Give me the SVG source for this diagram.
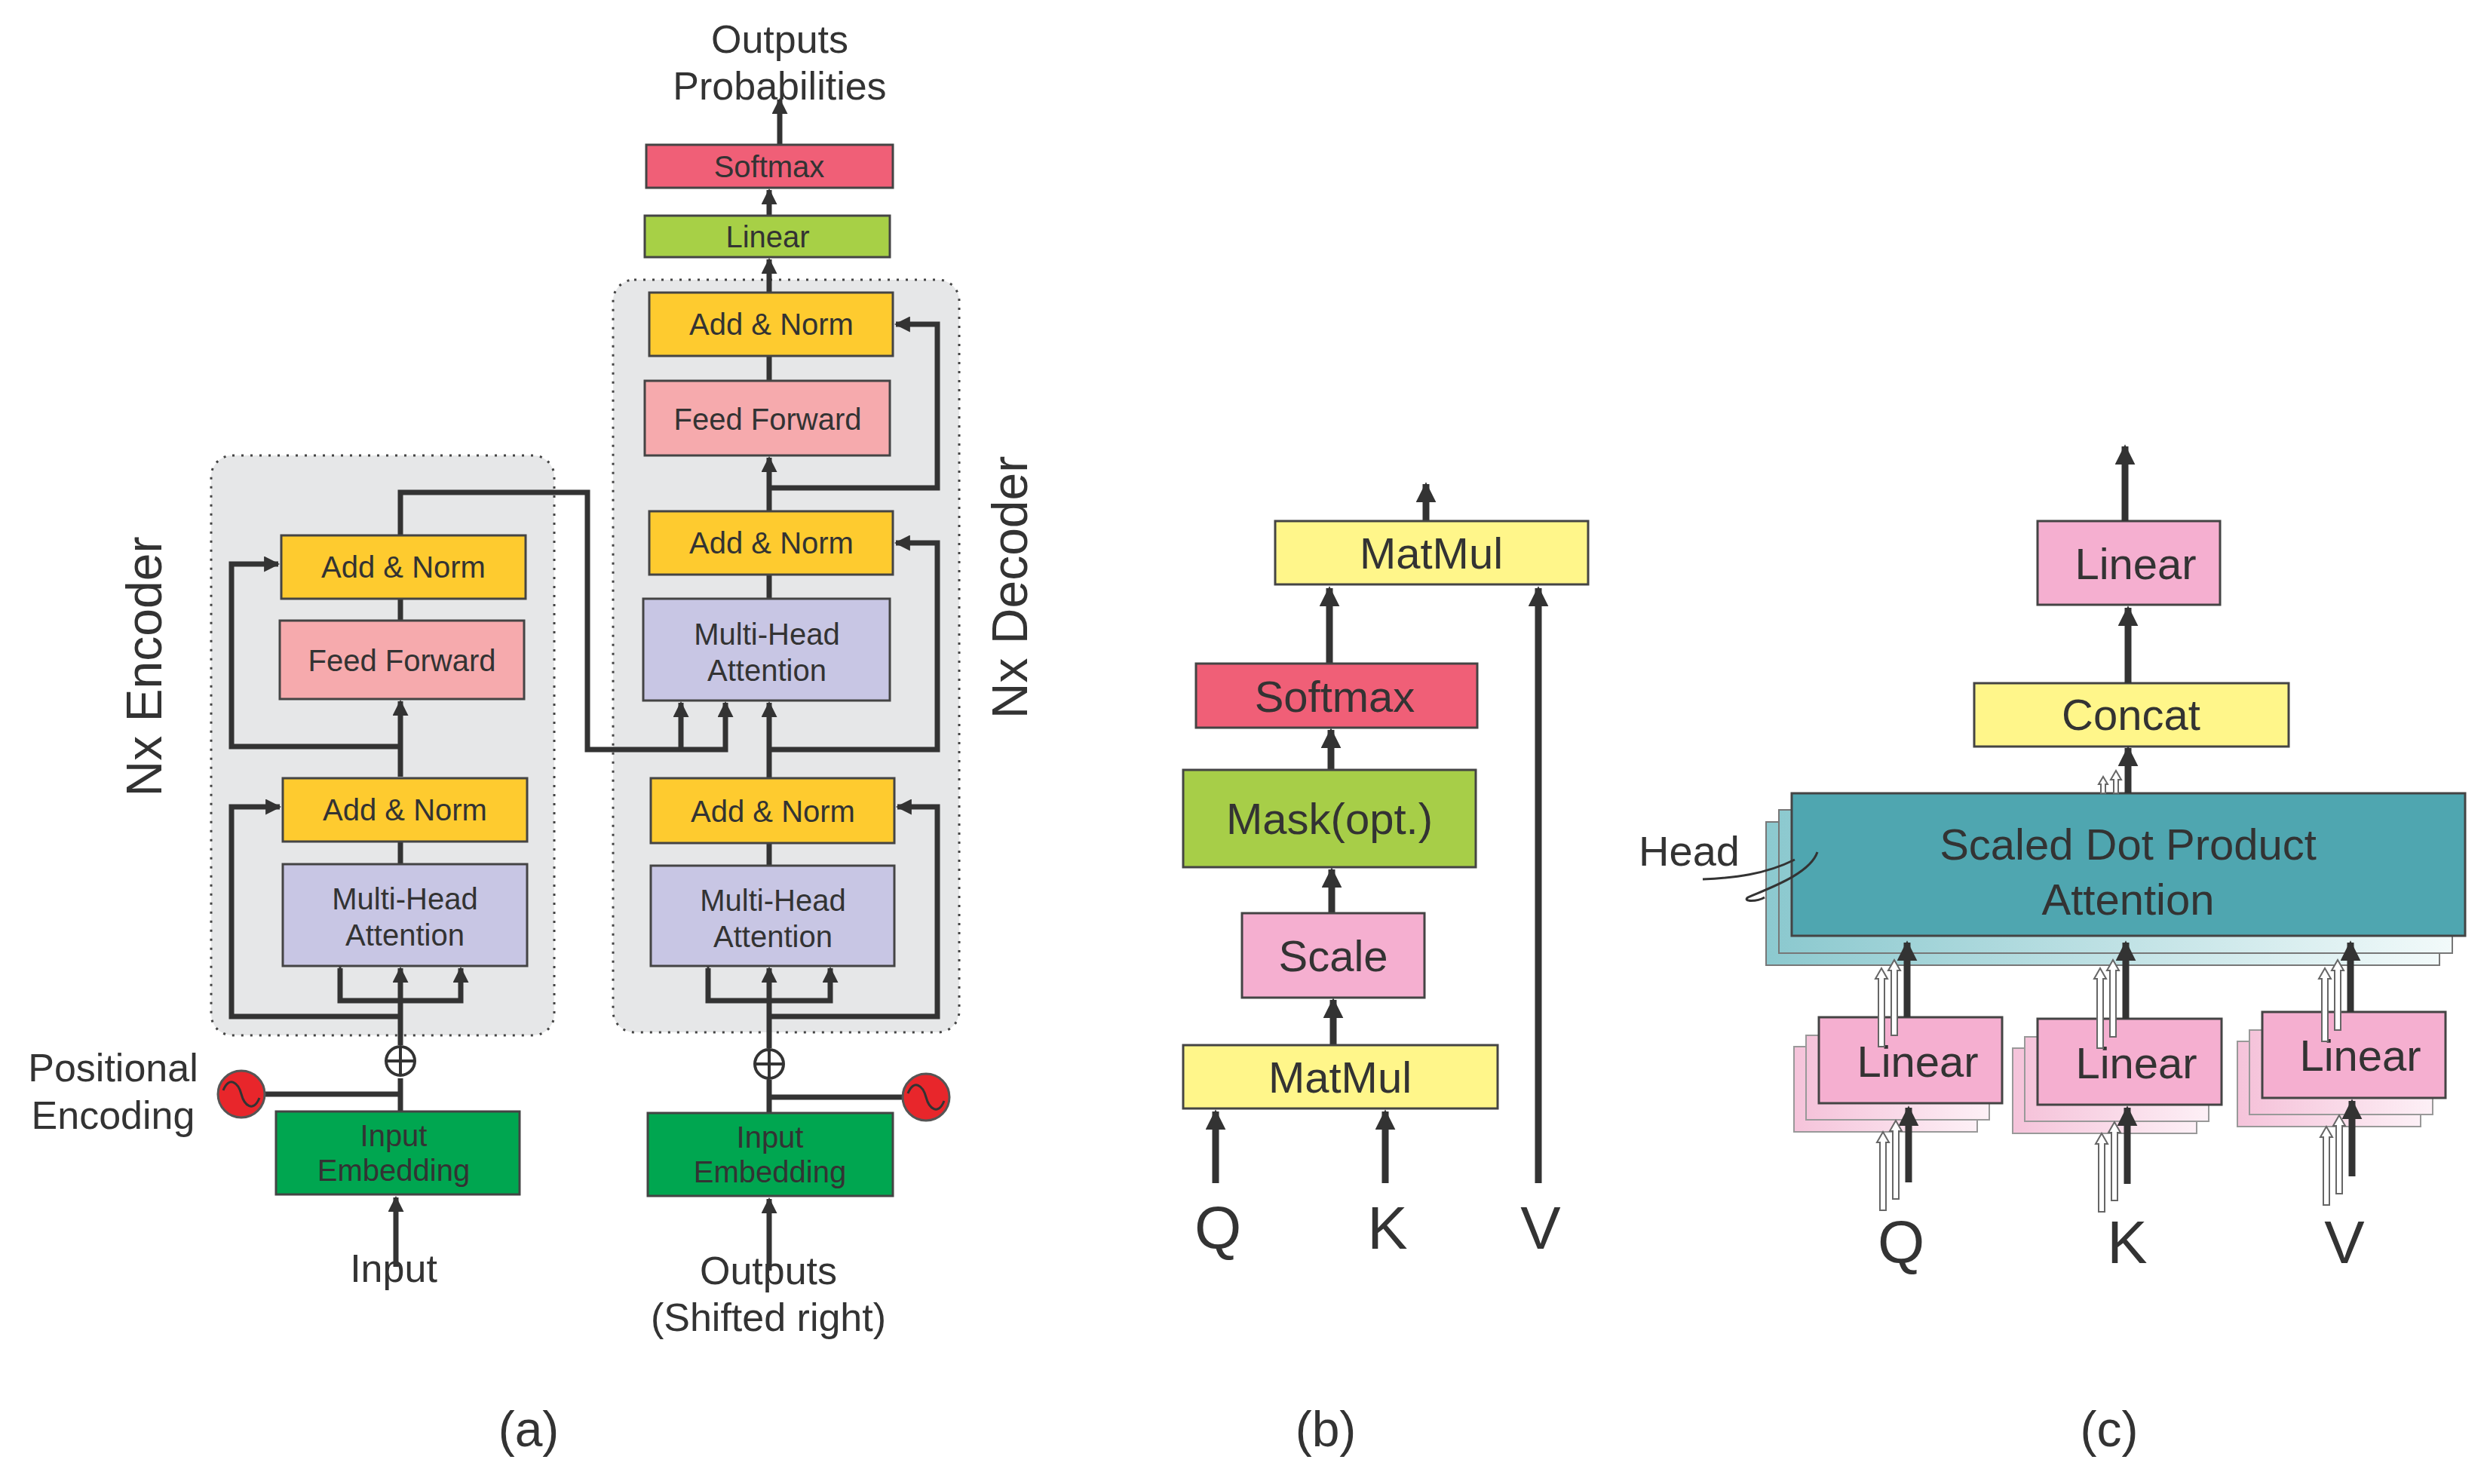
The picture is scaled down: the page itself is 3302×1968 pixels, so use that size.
<svg xmlns="http://www.w3.org/2000/svg" width="3302" height="1968" viewBox="0 0 3302 1968">
<style>
.b{stroke:#444;stroke-width:3}
.t{font-family:"Liberation Sans Narrow","Liberation Sans",Arial,sans-serif;fill:#333;text-anchor:middle}
.s{font-size:40px}
.L{font-family:"Liberation Sans",Arial,sans-serif;fill:#333;text-anchor:middle}
.c{fill:none;stroke:#333;stroke-width:7}
.w{fill:none;stroke:#333;stroke-width:9}
.an{fill:#fecb2f}.ff{fill:#f6aaad}.mh{fill:#c8c6e4}.ie{fill:#00a650}
.ct{fill:#e6e7e8;stroke:#444;stroke-width:3;stroke-dasharray:3 9}
.ow{fill:#fff;stroke:#666;stroke-width:2}
</style>
<defs>
<marker id="a" viewBox="0 0 10 10" refX="9" refY="5" markerWidth="3" markerHeight="3" orient="auto"><path d="M0,0L10,5L0,10z" fill="#333"/></marker>
<linearGradient id="tg" x1="0" x2="1"><stop offset="0" stop-color="#8cc9cf"/><stop offset="1" stop-color="#f2fafa"/></linearGradient>
<linearGradient id="pg" x1="0" x2="1"><stop offset="0" stop-color="#f5c3da"/><stop offset="1" stop-color="#fdf0f6"/></linearGradient>
</defs>
<rect width="3302" height="1968" fill="#fff"/>

<!-- containers -->
<rect id="enc-box" class="ct" x="280" y="604" width="455" height="769" rx="28"/>
<rect id="dec-box" class="ct" x="813" y="371" width="459" height="998" rx="28"/>

<!-- connectors (a) -->
<g id="connectors-a">
<path class="c" d="M1034,192V132" marker-end="url(#a)"/>
<path class="c" d="M1020,286V252" marker-end="url(#a)"/>
<path class="c" d="M1020,388V344" marker-end="url(#a)"/>
<path class="c" d="M1020,505V472"/>
<path class="c" d="M1020,678V607" marker-end="url(#a)"/>
<path class="c" d="M1020,794V762"/>
<path class="c" d="M1020,1032V932" marker-end="url(#a)"/>
<path class="c" d="M1020,1148V1118"/>
<path class="c" d="M1020,1476V1432"/>
<path class="c" d="M1020,1390V1284" marker-end="url(#a)"/>
<path class="c" d="M1020,1685V1590" marker-end="url(#a)"/>
<path class="c" d="M1020,1455H1198"/>
<path class="c" d="M1020,1348H1243V1070H1190" marker-end="url(#a)"/>
<path class="c" d="M1020,994H1243V720H1188" marker-end="url(#a)"/>
<path class="c" d="M1020,647H1243V430H1188" marker-end="url(#a)"/>
<path class="c" d="M939,1284V1327H1101V1284" marker-start="url(#a)" marker-end="url(#a)"/>
<path class="c" d="M531,1030V930" marker-end="url(#a)"/>
<path class="c" d="M531,1146V1116"/>
<path class="c" d="M531,823V794"/>
<path class="c" d="M531,1474V1430"/>
<path class="c" d="M531,1386V1284" marker-end="url(#a)"/>
<path class="c" d="M525,1680V1588" marker-end="url(#a)"/>
<path class="c" d="M351,1451H531"/>
<path class="c" d="M531,1348H307V1070H371" marker-end="url(#a)"/>
<path class="c" d="M531,990H307V748H369" marker-end="url(#a)"/>
<path class="c" d="M451,1284V1327H611V1284" marker-start="url(#a)" marker-end="url(#a)"/>
<path class="c" d="M531,710V653H779V994H962V932" marker-end="url(#a)"/>
<path class="c" d="M903,994V932" marker-end="url(#a)"/>
</g>

<!-- nodes (a) -->
<g id="d-softmax"><rect class="b" x="857" y="192" width="327" height="57" fill="#f05f77"/><text class="t s" x="1020" y="235">Softmax</text></g>
<g id="d-linear"><rect class="b" x="855" y="286" width="325" height="55" fill="#a7d046"/><text class="t s" x="1018" y="328">Linear</text></g>
<g id="d-an3"><rect class="b an" x="861" y="388" width="323" height="84"/><text class="t s" x="1023" y="444">Add &amp; Norm</text></g>
<g id="d-ff"><rect class="b ff" x="855" y="505" width="325" height="99"/><text class="t s" x="1018" y="570">Feed Forward</text></g>
<g id="d-an2"><rect class="b an" x="861" y="678" width="323" height="84"/><text class="t s" x="1023" y="734">Add &amp; Norm</text></g>
<g id="d-mha2"><rect class="b mh" x="853" y="794" width="327" height="135"/><text class="t s" x="1017" y="855">Multi-Head</text><text class="t s" x="1017" y="903">Attention</text></g>
<g id="d-an1"><rect class="b an" x="863" y="1032" width="323" height="86"/><text class="t s" x="1025" y="1090">Add &amp; Norm</text></g>
<g id="d-mha1"><rect class="b mh" x="863" y="1148" width="323" height="133"/><text class="t s" x="1025" y="1208">Multi-Head</text><text class="t s" x="1025" y="1256">Attention</text></g>
<g id="d-plus"><circle cx="1020" cy="1411" r="19" fill="#fff" stroke="#333" stroke-width="4"/><path d="M1003,1411H1037M1020,1394V1428" stroke="#333" stroke-width="4"/></g>
<g id="d-pe"><circle cx="1228" cy="1455" r="31" fill="#e8262b" stroke="#555" stroke-width="3"/><path d="M1204,1450c8,-20 20,-10 24,5s16,25 24,5" fill="none" stroke="#333" stroke-width="3"/></g>
<g id="d-emb"><rect class="b ie" x="859" y="1476" width="325" height="110"/><text class="t s" x="1021" y="1522">Input</text><text class="t s" x="1021" y="1568">Embedding</text></g>

<g id="e-an2"><rect class="b an" x="373" y="710" width="324" height="84"/><text class="t s" x="535" y="766">Add &amp; Norm</text></g>
<g id="e-ff"><rect class="b ff" x="371" y="823" width="324" height="104"/><text class="t s" x="533" y="890">Feed Forward</text></g>
<g id="e-an1"><rect class="b an" x="375" y="1032" width="324" height="84"/><text class="t s" x="537" y="1088">Add &amp; Norm</text></g>
<g id="e-mha"><rect class="b mh" x="375" y="1146" width="324" height="135"/><text class="t s" x="537" y="1206">Multi-Head</text><text class="t s" x="537" y="1254">Attention</text></g>
<g id="e-plus"><circle cx="531" cy="1407" r="19" fill="#fff" stroke="#333" stroke-width="4"/><path d="M514,1407H548M531,1390V1424" stroke="#333" stroke-width="4"/></g>
<g id="e-pe"><circle cx="320" cy="1451" r="31" fill="#e8262b" stroke="#555" stroke-width="3"/><path d="M296,1446c8,-20 20,-10 24,5s16,25 24,5" fill="none" stroke="#333" stroke-width="3"/></g>
<g id="e-emb"><rect class="b ie" x="366" y="1474" width="323" height="110"/><text class="t s" x="522" y="1520">Input</text><text class="t s" x="522" y="1566">Embedding</text></g>

<g id="labels-a" class="t" font-size="52">
<text x="1034" y="70">Outputs</text>
<text x="1034" y="132">Probabilities</text>
<text x="522" y="1700">Input</text>
<text x="1019" y="1703">Outputs</text>
<text x="1019" y="1765">(Shifted right)</text>
<text x="150" y="1434">Positional</text>
<text x="150" y="1497">Encoding</text>
<text x="214" y="884" font-size="66" font-family="Liberation Sans,Arial,sans-serif" transform="rotate(-90 214 884)">Nx Encoder</text>
<text x="1362" y="779" font-size="66" font-family="Liberation Sans,Arial,sans-serif" transform="rotate(-90 1362 779)">Nx Decoder</text>
<text x="701" y="1918" font-size="66" font-family="Liberation Sans,Arial,sans-serif">(a)</text>
</g>

<!-- (b) -->
<g id="connectors-b">
<path class="w" d="M1891,691V642" marker-end="url(#a)"/>
<path class="w" d="M1763,880V780" marker-end="url(#a)"/>
<path class="w" d="M1765,1021V968" marker-end="url(#a)"/>
<path class="w" d="M1766,1211V1153" marker-end="url(#a)"/>
<path class="w" d="M1768,1386V1326" marker-end="url(#a)"/>
<path class="w" d="M1612,1569V1474" marker-end="url(#a)"/>
<path class="w" d="M1837,1569V1474" marker-end="url(#a)"/>
<path class="w" d="M2040,1569V780" marker-end="url(#a)"/>
</g>
<g id="b-matmul2"><rect class="b" x="1691" y="691" width="415" height="84" fill="#fff68a"/><text class="L" x="1898" y="754" font-size="58">MatMul</text></g>
<g id="b-softmax"><rect class="b" x="1586" y="880" width="373" height="85" fill="#f05f77"/><text class="L" x="1770" y="944" font-size="58">Softmax</text></g>
<g id="b-mask"><rect class="b" x="1569" y="1021" width="388" height="129" fill="#a7ce48"/><text class="L" x="1763" y="1106" font-size="58">Mask(opt.)</text></g>
<g id="b-scale"><rect class="b" x="1647" y="1211" width="242" height="112" fill="#f5afd0"/><text class="L" x="1768" y="1288" font-size="58">Scale</text></g>
<g id="b-matmul1"><rect class="b" x="1569" y="1386" width="417" height="84" fill="#fff68a"/><text class="L" x="1777" y="1449" font-size="58">MatMul</text></g>
<g class="L" font-size="80"><text x="1615" y="1656">Q</text><text x="1840" y="1656">K</text><text x="2043" y="1656">V</text><text x="1758" y="1918" font-size="66">(b)</text></g>

<!-- (c) -->
<g id="c-sdpa">
<rect x="2342" y="1090" width="893" height="190" fill="url(#tg)" stroke="#777" stroke-width="2"/>
<rect x="2359" y="1074" width="893" height="190" fill="url(#tg)" stroke="#777" stroke-width="2"/>
<rect class="b" x="2376" y="1052" width="893" height="189" fill="#4fa6b0"/>
<text class="L" x="2822" y="1140" font-size="58">Scaled Dot Product</text>
<text class="L" x="2822" y="1213" font-size="58">Attention</text>
</g>
<g id="c-head"><text class="L" x="2240" y="1148" font-size="56">Head</text><path d="M2258,1166C2300,1164 2340,1160 2380,1140M2410,1130C2400,1160 2340,1180 2318,1190C2310,1196 2330,1196 2340,1190" fill="none" stroke="#333" stroke-width="3"/></g>
<g id="c-linq">
<rect x="2379" y="1388" width="243" height="113" fill="url(#pg)" stroke="#999" stroke-width="2"/>
<rect x="2395" y="1373" width="243" height="112" fill="url(#pg)" stroke="#999" stroke-width="2"/>
<rect class="b" x="2412" y="1349" width="243" height="114" fill="#f5afd0"/><text class="L" x="2543" y="1428" font-size="58">Linear</text>
</g>
<g id="c-link">
<rect x="2669" y="1390" width="244" height="113" fill="url(#pg)" stroke="#999" stroke-width="2"/>
<rect x="2685" y="1375" width="244" height="112" fill="url(#pg)" stroke="#999" stroke-width="2"/>
<rect class="b" x="2702" y="1351" width="244" height="114" fill="#f5afd0"/><text class="L" x="2833" y="1430" font-size="58">Linear</text>
</g>
<g id="c-linv">
<rect x="2967" y="1381" width="243" height="113" fill="url(#pg)" stroke="#999" stroke-width="2"/>
<rect x="2983" y="1366" width="243" height="112" fill="url(#pg)" stroke="#999" stroke-width="2"/>
<rect class="b" x="3000" y="1342" width="243" height="114" fill="#f5afd0"/><text class="L" x="3130" y="1420" font-size="58">Linear</text>
</g>
<g id="c-concat"><rect class="b" x="2618" y="906" width="417" height="84" fill="#fff68a"/><text class="L" x="2826" y="968" font-size="58">Concat</text></g>
<g id="c-linear"><rect class="b" x="2702" y="691" width="242" height="111" fill="#f5afd0"/><text class="L" x="2832" y="768" font-size="58">Linear</text></g>
<g id="connectors-c">
<path class="w" d="M2818,691V592" marker-end="url(#a)"/>
<path class="w" d="M2822,906V806" marker-end="url(#a)"/>
<path class="w" d="M2822,1052V992" marker-end="url(#a)"/>
<path class="ow" d="M2803,1052V1034h-4l7,-12l7,12h-4V1052z"/>
<path class="ow" d="M2786,1052V1040h-3l6,-10l6,10h-3V1052z"/>
<path class="w" d="M2529,1349V1250" marker-end="url(#a)"/>
<path class="w" d="M2819,1351V1250" marker-end="url(#a)"/>
<path class="w" d="M3117,1342V1250" marker-end="url(#a)"/>
<path class="w" d="M2531,1568V1469" marker-end="url(#a)"/>
<path class="w" d="M2821,1570V1469" marker-end="url(#a)"/>
<path class="w" d="M3119,1560V1460" marker-end="url(#a)"/>
<g class="ow">
<path d="M2508,1373V1287h-4l8,-14l8,14h-4V1373z"/>
<path d="M2491,1388V1298h-4l8,-14l8,14h-4V1388z"/>
<path d="M2798,1375V1287h-4l8,-14l8,14h-4V1375z"/>
<path d="M2781,1390V1298h-4l8,-14l8,14h-4V1390z"/>
<path d="M3096,1366V1287h-4l8,-14l8,14h-4V1366z"/>
<path d="M3079,1381V1298h-4l8,-14l8,14h-4V1381z"/>
<path d="M2510,1590V1500h-4l8,-14l8,14h-4V1590z"/>
<path d="M2493,1605V1515h-4l8,-14l8,14h-4V1605z"/>
<path d="M2800,1592V1502h-4l8,-14l8,14h-4V1592z"/>
<path d="M2783,1607V1517h-4l8,-14l8,14h-4V1607z"/>
<path d="M3098,1583V1493h-4l8,-14l8,14h-4V1583z"/>
<path d="M3081,1598V1508h-4l8,-14l8,14h-4V1598z"/>
</g>
</g>
<g class="L" font-size="80"><text x="2521" y="1675">Q</text><text x="2821" y="1675">K</text><text x="3109" y="1675">V</text><text x="2797" y="1918" font-size="66">(c)</text></g>
</svg>
